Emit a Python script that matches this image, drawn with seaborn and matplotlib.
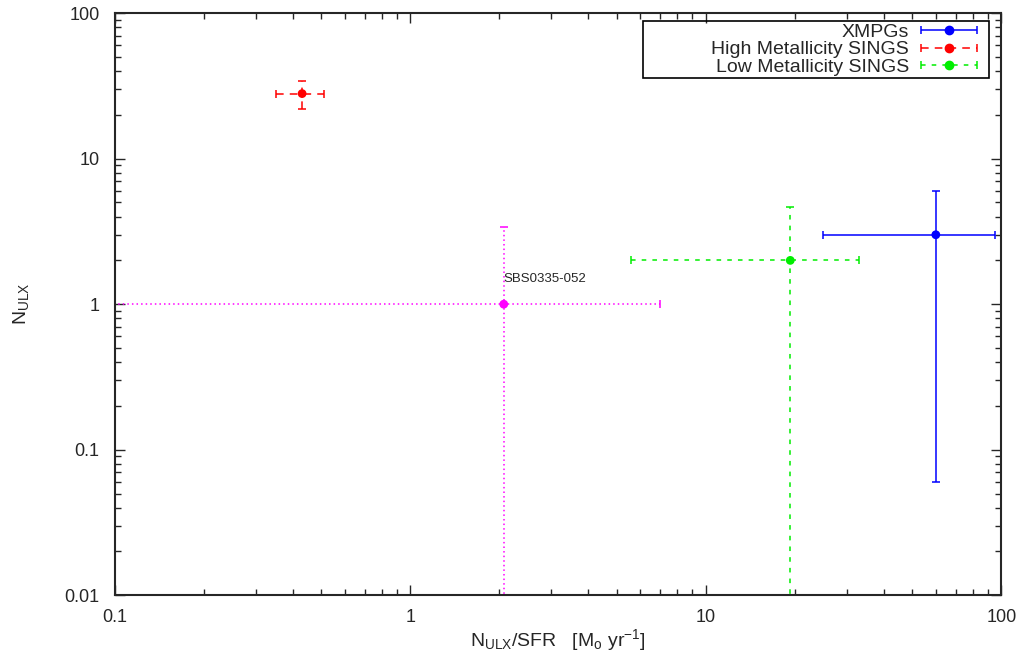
import numpy as np
import pandas as pd
import seaborn as sns
import matplotlib
matplotlib.use("Agg")
import matplotlib.pyplot as plt
from matplotlib.container import ErrorbarContainer
from matplotlib.legend_handler import HandlerErrorbar
from matplotlib.patches import Rectangle
from matplotlib.ticker import FixedLocator, FixedFormatter, LogLocator, NullFormatter

# data
groups = ["XMPGs", "High Metallicity SINGS", "Low Metallicity SINGS", "SBS0335-052"]
x_vals = [60.0, 0.43, 19.3, 2.07]
x_err = [35.0, 0.08, 13.7, 4.9]
y_vals = [3.0, 28.0, 2.0, 1.0]
y_err_lo = [2.94, 6.0, 2.64, 2.38]
y_err_hi = [3.0, 6.0, 2.64, 2.38]
colors = ["#0000ff", "#ff0000", "#00ee00", "#ff00ff"]
styles = ["-", (0, (5, 4)), (0, (3, 4)), (0, (1, 2))]
in_legend = [True, True, True, False]

xticks = [0.1, 1, 10, 100]
xtick_labels = ["0.1", "1", "10", "100"]
yticks = [0.01, 0.1, 1, 10, 100]
ytick_labels = ["0.01", "0.1", "1", "10", "100"]

df = pd.DataFrame({"group": groups, "x": x_vals, "y": y_vals})

sns.set_style("ticks")
plt.rcParams["font.family"] = ["Liberation Sans", "DejaVu Sans"]
plt.rcParams["mathtext.default"] = "regular"

fig = plt.figure(figsize=(10.26, 6.57), dpi=100)
ax = fig.add_axes([0.112, 0.094, 0.864, 0.886])
ax.set_xscale("log")
ax.set_yscale("log")

handles = []
for i in range(len(groups)):
    c = ax.errorbar(x_vals[i], y_vals[i], xerr=x_err[i],
                    yerr=[[y_err_lo[i]], [y_err_hi[i]]],
                    fmt="none", ecolor=colors[i], elinewidth=1.1,
                    capsize=3, capthick=1.1, zorder=2)
    for bc in c.lines[2]:
        bc.set_linestyle(styles[i])
    if in_legend[i]:
        mk = plt.Line2D([], [], color=colors[i], marker="o", markersize=6,
                        linestyle="none")
        handles.append(ErrorbarContainer((mk, c.lines[1], c.lines[2]),
                                         has_xerr=True, has_yerr=False,
                                         label=groups[i]))

sns.scatterplot(data=df, x="x", y="y", hue="group", palette=colors,
                s=40, edgecolor="none", legend=False, ax=ax, zorder=3)

ax.annotate("SBS0335-052", (x_vals[3], y_vals[3]), xytext=(0, 14),
            textcoords="offset points", fontsize=9.5, ha="left", va="bottom")

ax.set_xlim(0.1, 100)
ax.set_ylim(0.01, 100)
ax.xaxis.set_major_locator(FixedLocator(xticks))
ax.xaxis.set_major_formatter(FixedFormatter(xtick_labels))
ax.yaxis.set_major_locator(FixedLocator(yticks))
ax.yaxis.set_major_formatter(FixedFormatter(ytick_labels))
ax.xaxis.set_minor_locator(LogLocator(base=10, subs=np.arange(2, 10)))
ax.yaxis.set_minor_locator(LogLocator(base=10, subs=np.arange(2, 10)))
ax.xaxis.set_minor_formatter(NullFormatter())
ax.yaxis.set_minor_formatter(NullFormatter())
ax.tick_params(which="both", direction="in", top=True, right=True, labelsize=13, width=1)
ax.tick_params(axis="x", which="major", length=7, pad=10)
ax.tick_params(axis="y", which="major", length=7, pad=11)
ax.tick_params(which="minor", length=4)
for sp in ax.spines.values():
    sp.set_linewidth(1.5)

ax.set_xlabel("N$_{ULX}$/SFR   [M$_o$ yr$^{-1}$]", fontsize=14, labelpad=1)
ax.set_ylabel("N$_{ULX}$", fontsize=14, labelpad=24)

# gnuplot style key box (wider than the text it holds)
ax.add_patch(Rectangle((0.596, 0.888), 0.390, 0.098, transform=ax.transAxes,
                       fill=False, edgecolor="black", linewidth=1.2, zorder=4))
leg = ax.legend(handles=handles, loc="upper right", markerfirst=False,
                fontsize=14, frameon=False,
                borderpad=0.1, labelspacing=0.0, handlelength=3.9,
                handletextpad=0.1, borderaxespad=0.0, bbox_to_anchor=(0.986, 0.986),
                handler_map={ErrorbarContainer: HandlerErrorbar(xerr_size=1.44)})

fig.savefig("out.png", dpi=100)
